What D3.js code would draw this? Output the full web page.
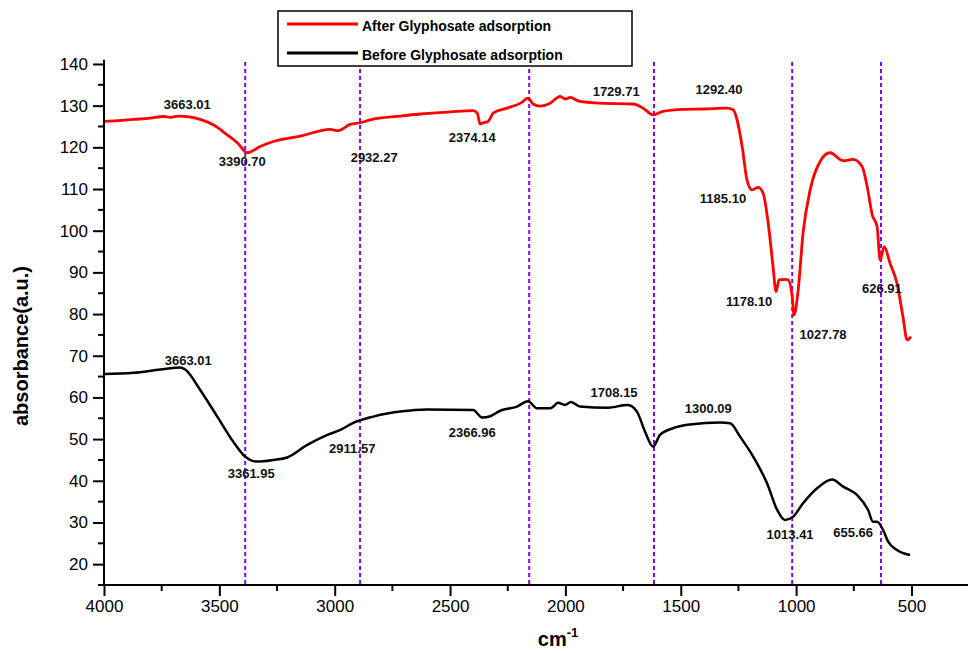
<!DOCTYPE html>
<html>
<head>
<meta charset="utf-8">
<script src="https://cdn.jsdelivr.net/npm/d3@7"></script>
<style>
  body { margin: 0; background: #fff; }
  svg { display: block; font-family: Arial, "Liberation Sans", sans-serif; }
</style>
</head>
<body>
<svg id="chart" width="971" height="653"></svg>
<script>
// FTIR spectra, wavenumber (cm-1) vs absorbance
const afterWave = [4000, 3940, 3873, 3800, 3743, 3710, 3678, 3630, 3583, 3526, 3466, 3420, 3379, 3323, 3266, 3149, 3019, 2985, 2933, 2889, 2846, 2716, 2629, 2500, 2400, 2382, 2370, 2350, 2335, 2313, 2253, 2194, 2162, 2140, 2110, 2066, 2023, 2000, 1980, 1937, 1850, 1707, 1663, 1620, 1577, 1490, 1400, 1299, 1273, 1256, 1234, 1213, 1191, 1165, 1143, 1121, 1100, 1087, 1074, 1048, 1035, 1017, 1009, 991, 970, 939, 896, 853, 796, 753, 714, 692, 670, 649, 636, 618, 593, 563, 537, 519, 502]
const afterAbs = [126.2, 126.4, 126.7, 127.0, 127.4, 127.2, 127.5, 127.3, 126.7, 125.4, 123.0, 121.0, 118.7, 120.2, 121.4, 122.7, 124.3, 124.0, 125.5, 125.9, 126.6, 127.5, 128.0, 128.5, 128.8, 128.2, 125.6, 126.0, 126.2, 128.2, 129.4, 130.6, 131.8, 130.4, 129.9, 130.6, 132.2, 131.6, 132.0, 131.0, 130.6, 130.4, 129.4, 127.8, 128.6, 129.1, 129.2, 129.4, 129.0, 126.6, 120.2, 112.2, 109.8, 110.4, 109.0, 101.8, 91.4, 85.4, 88.2, 88.3, 88.2, 84.2, 79.8, 85.8, 99.4, 109.8, 116.6, 118.7, 116.8, 117.1, 115.4, 110.6, 103.8, 101.0, 93.0, 96.2, 92.2, 87.4, 79.4, 73.8, 74.6]

const beforeWave = [4000, 3873, 3756, 3669, 3648, 3583, 3509, 3440, 3388, 3336, 3266, 3206, 3119, 3032, 2976, 2920, 2833, 2716, 2599, 2400, 2361, 2326, 2283, 2210, 2162, 2123, 2066, 2053, 2032, 2002, 1976, 1937, 1820, 1729, 1690, 1655, 1620, 1590, 1534, 1460, 1330, 1286, 1243, 1186, 1126, 1082, 1048, 1013, 970, 909, 844, 796, 736, 688, 667, 649, 623, 601, 563, 506]
const beforeAbs = [65.6, 65.9, 66.7, 67.2, 66.7, 61.8, 55.4, 49.4, 45.8, 44.6, 45.0, 45.6, 48.6, 51.0, 52.2, 53.9, 55.4, 56.6, 57.1, 57.0, 55.2, 55.5, 56.8, 57.8, 59.1, 57.4, 57.4, 57.8, 58.7, 58.2, 58.9, 57.8, 57.5, 58.2, 56.6, 51.8, 48.2, 51.0, 52.6, 53.5, 54.0, 53.8, 50.6, 45.8, 39.4, 33.0, 30.6, 31.4, 34.6, 38.2, 40.3, 38.6, 36.6, 33.0, 30.2, 30.2, 28.2, 25.4, 23.4, 22.2]

// dashed guide lines
const guideWave = [3388, 2890, 2157, 1616, 1017, 632]

// peak annotations: text, anchor wavenumber, anchor value
const afterPeakText = ["3663.01", "3390.70", "2932.27", "2374.14", "1729.71", "1292.40", "1185.10", "1178.10", "1027.78", "626.91"]
const afterPeakWave = [3639, 3401, 2829, 2404, 1780, 1334, 1317, 1204, 883, 628]
const afterPeakAbs = [129.2, 115.5, 116.5, 121.3, 132.3, 132.8, 106.6, 81.9, 74.0, 85.0]

const beforePeakText = ["3663.01", "3361.95", "2911.57", "2366.96", "1708.15", "1300.09", "1013.41", "655.66"]
const beforePeakWave = [3635, 3362, 2924, 2404, 1789, 1381, 1026, 753]
const beforePeakAbs = [67.8, 40.6, 46.6, 50.5, 60.1, 56.2, 26.0, 26.5]

const seriesNames = ["After Glyphosate adsorption", "Before Glyphosate adsorption"]
const seriesColors = ["#ff0000", "#000000"]

const xMajor = [4000, 3500, 3000, 2500, 2000, 1500, 1000, 500]
const yMajor = [20, 30, 40, 50, 60, 70, 80, 90, 100, 110, 120, 130, 140]

const svg = d3.select("#chart")

const x = d3.scaleLinear().domain([4000, 255]).range([104, 968])
const y = d3.scaleLinear().domain([15, 141]).range([585, 59.8])

// guides
svg.append("g").selectAll("line").data(guideWave).enter().append("line")
    .attr("x1", d => x(d)).attr("x2", d => x(d))
    .attr("y1", y(140.5)).attr("y2", y(15))
    .attr("stroke", "#8000ff").attr("stroke-width", 2)
    .attr("stroke-dasharray", "4,3")

// spectra
let line = d3.line().x(d => x(d[0])).y(d => y(d[1])).curve(d3.curveMonotoneX)
let after = afterWave.map((w, i) => [w, afterAbs[i]])
let before = beforeWave.map((w, i) => [w, beforeAbs[i]])

svg.append("path").datum(before).attr("d", line)
    .attr("fill", "none").attr("stroke", seriesColors[1]).attr("stroke-width", 2.5)
svg.append("path").datum(after).attr("d", line)
    .attr("fill", "none").attr("stroke", seriesColors[0]).attr("stroke-width", 2.8)

// axes
let xAxis = svg.append("g").attr("transform", "translate(0,585)")
    .call(d3.axisBottom(x).tickValues(xMajor).tickSize(11).tickPadding(4).tickFormat(d3.format("d")))
xAxis.append("g").selectAll("line")
    .data(d3.range(3750, 255, -500)).enter().append("line")
    .attr("x1", d => x(d)).attr("x2", d => x(d)).attr("y1", 0).attr("y2", 6)
    .attr("stroke", "#000").attr("stroke-width", 2)

let yAxis = svg.append("g").attr("transform", "translate(104,0)")
    .call(d3.axisLeft(y).tickValues(yMajor).tickSize(11).tickPadding(5))
yAxis.append("g").selectAll("line")
    .data(d3.range(15, 140, 10)).enter().append("line")
    .attr("x1", 0).attr("x2", -6).attr("y1", d => y(d)).attr("y2", d => y(d))
    .attr("stroke", "#000").attr("stroke-width", 2)

svg.selectAll(".domain").attr("stroke", "#000").attr("stroke-width", 2)
    .attr("d", function () {
        return d3.select(this.parentNode).attr("transform") === "translate(0,585)"
            ? "M98,0H968" : "M0,585V59.8"
    })
svg.selectAll(".tick line").attr("stroke-width", 2)
svg.selectAll(".tick text").attr("font-size", 17).attr("fill", "#000")
    .attr("font-family", "Arial, 'Liberation Sans', sans-serif")

// axis titles
svg.append("text").attr("transform", "translate(28,346) rotate(-90)")
    .attr("text-anchor", "middle").attr("font-size", 20).attr("font-weight", "bold")
    .text("absorbance(a.u.)")
let xt = svg.append("text").attr("x", 558).attr("y", 646)
    .attr("text-anchor", "middle").attr("font-size", 20).attr("font-weight", "bold")
xt.append("tspan").text("cm")
xt.append("tspan").attr("dy", -9).attr("font-size", 13).text("-1")

// peak labels
function peakLabels(texts, waves, vals) {
    svg.append("g").selectAll("text").data(texts).enter().append("text")
        .attr("x", (d, i) => x(waves[i])).attr("y", (d, i) => y(vals[i]))
        .attr("text-anchor", "middle").attr("font-size", 13).attr("font-weight", "bold")
        .attr("fill", "#111")
        .text(d => d)
}
peakLabels(afterPeakText, afterPeakWave, afterPeakAbs)
peakLabels(beforePeakText, beforePeakWave, beforePeakAbs)

// legend
let legend = svg.append("g")
legend.append("rect").attr("x", 278).attr("y", 11).attr("width", 354).attr("height", 55)
    .attr("fill", "#fff").attr("stroke", "#000").attr("stroke-width", 1.5)
seriesNames.forEach((name, i) => {
    let ly = 24 + i * 29
    legend.append("line").attr("x1", 287).attr("x2", 358).attr("y1", ly).attr("y2", ly)
        .attr("stroke", seriesColors[i]).attr("stroke-width", 3)
    legend.append("text").attr("x", 362).attr("y", ly + 7)
        .attr("font-size", 14).attr("font-weight", "bold").text(name)
})
</script>
</body>
</html>
